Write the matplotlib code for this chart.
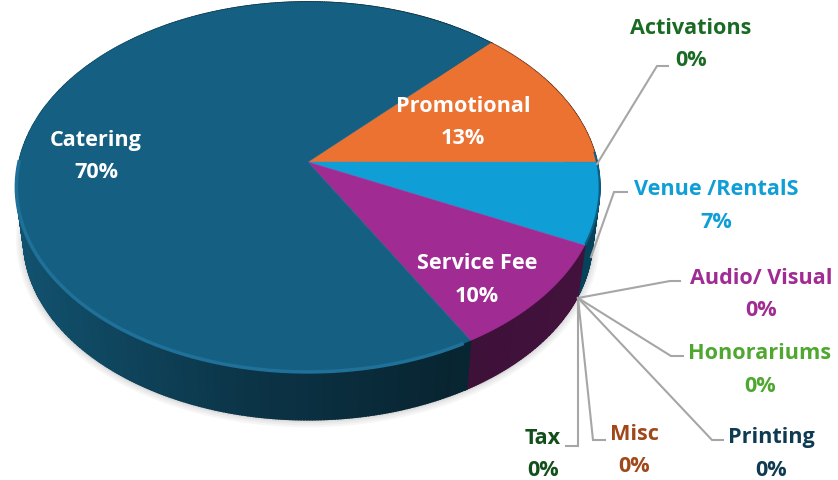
import numpy as np
import matplotlib
matplotlib.use('Agg')
import matplotlib.pyplot as plt

# data (clockwise from the promotional slice)
categories = ['Promotional', 'Activations', 'Venue /RentalS', 'Audio/ Visual', 'Honorariums',
              'Printing', 'Misc', 'Tax', 'Service Fee', 'Catering']
shares = [12.8, 0, 7.1, 0, 0, 0, 0, 0, 9.6, 70.4]
colors = ['#EC7232', '#196B24', '#0F9ED5', '#A02B93', '#4EA72E',
          '#0E3A52', '#A0481A', '#124F1A', '#A02B93', '#156082']
label_colors = ['white', '#196B24', '#0F9ED5', '#A02B93', '#4EA72E',
                '#0E3A52', '#A0481A', '#124F1A', 'white', 'white']

start_angle = 46.1

# label centres and leader lines, in pixels
label_pos = {'Promotional': (463, 105), 'Activations': (691, 27), 'Venue /RentalS': (716, 188),
             'Audio/ Visual': (761, 277), 'Honorariums': (760, 352), 'Printing': (771, 436),
             'Misc': (634, 433), 'Tax': (543, 437), 'Service Fee': (477, 262), 'Catering': (96, 139)}
leaders = [[(597, 164), (657, 66), (668, 66)],
           [(591, 257), (614, 192), (627, 192)],
           [(578, 298), (670, 281), (680, 281)],
           [(578, 298), (671, 356), (683, 356)],
           [(578, 298), (712, 440), (723, 440)],
           [(578, 298), (593, 440), (605, 440)],
           [(578, 298), (578, 446), (566, 446)]]


# perspective view of the pie disk: the apex is not in the middle of the ellipse
def top_face(deg):
    t = np.radians(deg)
    u, v = np.cos(t), np.sin(t)
    w = 1 + 0.135 * v
    return 308 + 289 * u / w, 162 - 181.6 * v / w


def bottom_face(deg):
    x, y = top_face(deg)
    return 308 + 0.975 * (x - 308), 215 + 0.975 * (y - 162)


def darken(col, f):
    return tuple(c * f for c in matplotlib.colors.to_rgb(col))


fig = plt.figure(figsize=(8.38, 4.8), dpi=100, facecolor='white')
ax = fig.add_axes([0, 0, 1, 1])
ax.set_xlim(0, 838)
ax.set_ylim(480, 0)
ax.axis('off')

# slice angles
fr = np.array(shares) / sum(shares) * 360
ends = start_angle - np.cumsum(fr)
starts = ends + fr

# soft shadow under the wall
a = np.linspace(0, 360, 361)
bx, by = bottom_face(a)
for w in (11, 8, 5, 3):
    ax.plot(bx, by, color='black', alpha=0.035, lw=w, zorder=1)

# side wall, shaded by small pieces
for s, e, c in zip(starts, ends, colors):
    if s == e:
        continue
    angs = np.arange(s, e - 0.5, -0.5)
    angs = np.append(angs, e)
    for a0, a1 in zip(angs[:-1], angs[1:]):
        x0, y0 = top_face(a0)
        x1, y1 = top_face(a1)
        x2, y2 = bottom_face(a1)
        x3, y3 = bottom_face(a0)
        f = np.interp((x0 + x1) / 2, [16, 240, 450, 600], [0.85, 0.55, 0.38, 0.42])
        col = darken(c, f)
        ax.fill([x0, x1, x2, x3], [y0, y1, y2, y3], color=col, lw=1.2, zorder=2)

# top of the pie
for s, e, c in zip(starts, ends, colors):
    if s == e:
        continue
    angs = np.linspace(s, e, 200)
    x, y = top_face(angs)
    ax.fill(np.r_[308, x], np.r_[162, y], color=c, lw=0.3, zorder=3)

# bevel along the rim
rim = np.linspace(180, 298, 200)
x, y = top_face(rim)
ax.plot(x, y, color='#1F7199', lw=2.5, zorder=4)
rim = np.linspace(-25, 3, 50)
x, y = top_face(rim)
ax.plot(x, y, color='#0B5F85', lw=1.5, zorder=4)

# leader lines
for pts in leaders:
    ax.plot([p[0] for p in pts], [p[1] for p in pts], color='#A6A6A6', lw=1.5, zorder=5,
            solid_joinstyle='miter')

# labels
for name, val, c in zip(categories, shares, label_colors):
    px, py = label_pos[name]
    ax.text(px, py + 1.5, name, color=c, ha='center', va='center', family='Open Sans',
            fontweight='bold', fontsize=15.6, zorder=6)
    ax.text(px, py + 34, '%d%%' % round(val), color=c, ha='center', va='center', family='Open Sans',
            fontweight='bold', fontsize=15.6, zorder=6)

fig.savefig('out.png', dpi=100)
